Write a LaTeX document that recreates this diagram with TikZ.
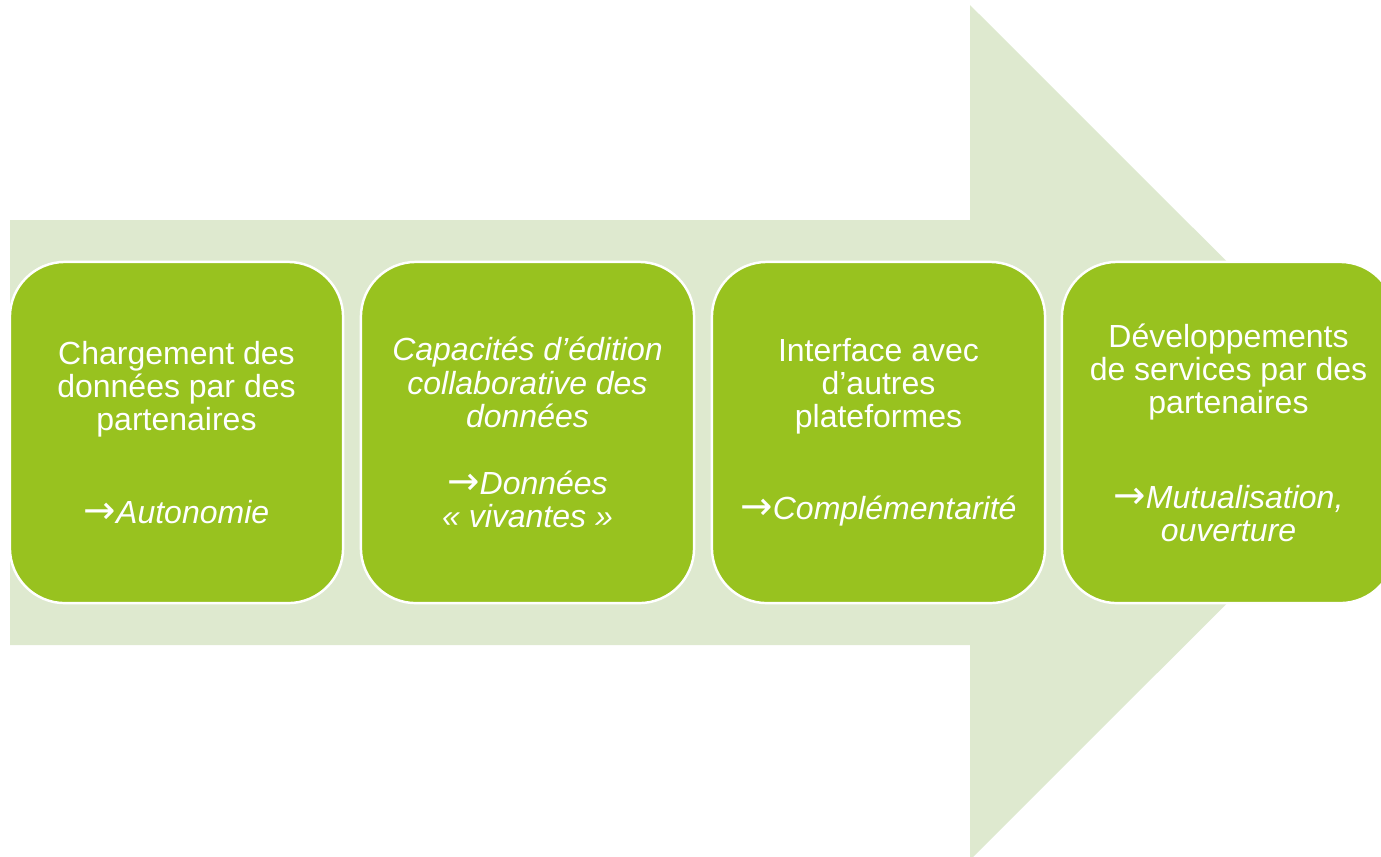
\documentclass[tikz,border=0pt]{standalone}
\usepackage{fontspec}
\setmainfont{Liberation Sans}
\newfontfamily\arrfont{DejaVu Sans}
\definecolor{pale}{HTML}{DEE9CF}
\definecolor{leaf}{HTML}{98C21F}
\newcommand{\fleche}{{\arrfont\fontsize{11}{9.4}\selectfont\smash{→}}}
\begin{document}
\begin{tikzpicture}[x=0.01cm,y=-0.01cm]
    \tikzstyle{every node}=[rounded corners=0.55cm,draw=white,line width=0.7pt,fill=leaf,text=white,minimum width=3.33cm,minimum height=3.41cm,align=center,font=\fontsize{9.1}{9.4}\selectfont]
    \useasboundingbox (0,0) rectangle (1381,856);
    \clip (0,0) rectangle (1381,856);
    % big arrow behind
    \fill[pale] (10,220) -- (970,220) -- (970,5) -- (1398,432.5) -- (970,860) -- (970,645) -- (10,645) -- cycle;
    \draw (176.5,432.5) node (1) {Chargement des\\donn\'ees par des\\partenaires\\[16.8pt]\fleche\textit{Autonomie}};
    \draw (527.5,432.5) node (2) {\textit{Capacit\'es d’\'edition}\\\textit{collaborative des}\\\textit{donn\'ees}\\[9.7pt]\fleche\textit{Donn\'ees}\\\textit{« vivantes »}};
    \draw (878.5,432.5) node (3) {Interface avec\\d’autres\\plateformes\\[16.8pt]\fleche\textit{Compl\'ementarit\'e}};
    \draw (1228.5,432.5) node (4) {D\'eveloppements\\de services par des\\partenaires\\[17.6pt]\fleche\textit{Mutualisation,}\\\textit{ouverture}};
\end{tikzpicture}
\end{document}
